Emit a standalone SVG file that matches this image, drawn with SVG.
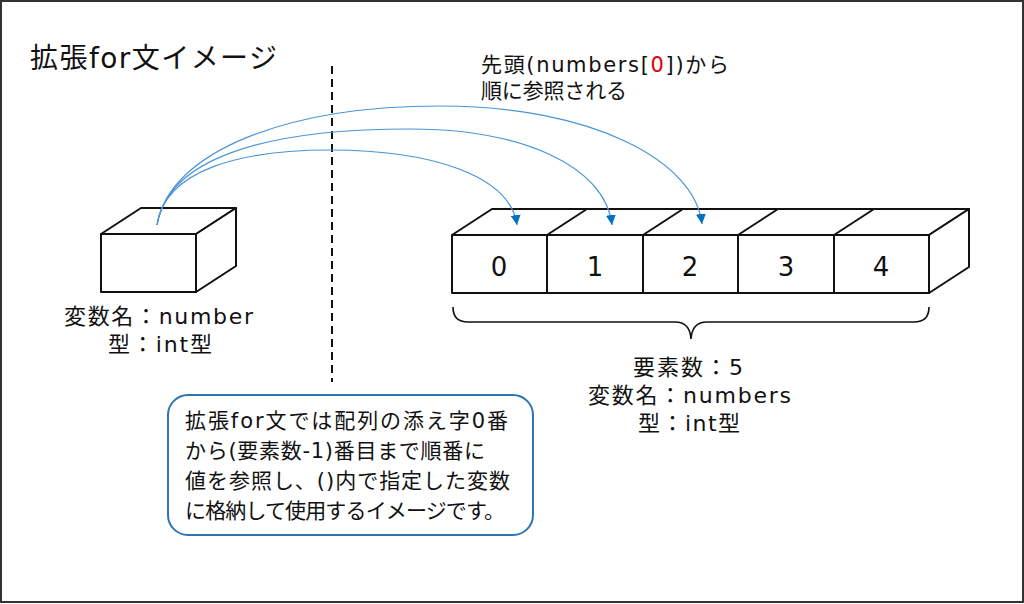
<svg xmlns="http://www.w3.org/2000/svg" width="1024" height="604" viewBox="0 0 1024 604">
<defs>
<style>
.t{font-family:"DejaVu Sans","Noto Sans CJK JP",sans-serif;fill:#111;}
.edge{fill:none;stroke:#111;stroke-width:2;stroke-linejoin:round;}
.face{fill:#fff;stroke:#111;stroke-width:2;stroke-linejoin:round;}
.arc{fill:none;stroke:#4A94D6;stroke-width:1.2;}
</style>
<marker id="ah" viewBox="0 0 10 10" refX="10" refY="5" markerWidth="10" markerHeight="10" markerUnits="userSpaceOnUse" orient="auto">
<path d="M0,0 L10,5 L0,10 z" fill="#0070C0"/>
</marker>
</defs>
<rect x="0" y="0" width="1024" height="604" fill="#fff"/>
<rect x="1" y="1" width="1022" height="601" fill="none" stroke="#333" stroke-width="2"/>

<g id="title">
<text class="t" x="30" y="68" font-size="28" textLength="247" lengthAdjust="spacing">拡張for文イメージ</text>
</g>

<g id="divider">
<line x1="332" y1="66" x2="332" y2="382" stroke="#111" stroke-width="2" stroke-dasharray="8,5"/>
</g>

<g id="note-top">
<text class="t" x="481" y="72" font-size="21" textLength="248" lengthAdjust="spacing">先頭(numbers[<tspan fill="#E00000">0</tspan>])から</text>
<text class="t" x="481" y="98" font-size="21" textLength="146" lengthAdjust="spacing">順に参照される</text>
</g>

<g id="variable">
<path class="face" d="M101,234 L141,208 L236,208 L196,234 Z"/>
<path class="face" d="M196,234 L236,208 L236,266 L196,292 Z"/>
<rect class="face" x="101" y="234" width="95" height="58"/>
<text class="t" x="64" y="324" font-size="22" textLength="189" lengthAdjust="spacing">変数名：number</text>
<text class="t" x="108" y="352" font-size="22" textLength="104" lengthAdjust="spacing">型：int型</text>
</g>

<g id="array">
<path class="face" d="M452,235 L492,209 L969,209 L929,235 Z"/>
<path class="edge" d="M547,235 L587,209 M643,235 L683,209 M738,235 L778,209 M834,235 L874,209"/>
<path class="face" d="M929,235 L969,209 L969,267 L929,293 Z"/>
<rect class="face" x="452" y="235" width="477" height="58"/>
<path class="edge" d="M547,235 V293 M643,235 V293 M738,235 V293 M834,235 V293"/>
<text class="t" x="499" y="276" font-size="26" text-anchor="middle">0</text>
<text class="t" x="595" y="276" font-size="26" text-anchor="middle">1</text>
<text class="t" x="690" y="276" font-size="26" text-anchor="middle">2</text>
<text class="t" x="786" y="276" font-size="26" text-anchor="middle">3</text>
<text class="t" x="881" y="276" font-size="26" text-anchor="middle">4</text>
<path d="M453,307 Q453,322 468,322 L675,322 Q690,322 691,339 Q692,322 707,322 L914,322 Q929,322 929,307" fill="none" stroke="#111" stroke-width="1.6"/>
<text class="t" x="633" y="375" font-size="22" textLength="110" lengthAdjust="spacing">要素数：5</text>
<text class="t" x="588" y="403" font-size="22" textLength="203" lengthAdjust="spacing">変数名：numbers</text>
<text class="t" x="638" y="431" font-size="22" textLength="102" lengthAdjust="spacing">型：int型</text>
</g>

<g id="connectors">
<path class="arc" marker-end="url(#ah)" d="M157,225 C165,170 240,150 330,150 C430,150 510,175 517,225"/>
<path class="arc" marker-end="url(#ah)" d="M157,225 C168,160 260,129 410,129 C520,129 605,165 612,225"/>
<path class="arc" marker-end="url(#ah)" d="M157,225 C170,150 290,106 440,106 C590,106 695,160 702,224"/>
</g>

<g id="explanation">
<rect x="168" y="395" width="365" height="140" rx="20" ry="20" fill="#fff" stroke="#2E75B6" stroke-width="2"/>
<text class="t" x="185" y="428" font-size="21" textLength="323" lengthAdjust="spacing">拡張for文では配列の添え字0番</text>
<text class="t" x="185" y="458" font-size="21" textLength="300" lengthAdjust="spacing">から(要素数-1)番目まで順番に</text>
<text class="t" x="185" y="488" font-size="21" textLength="325" lengthAdjust="spacing">値を参照し、()内で指定した変数</text>
<text class="t" x="185" y="518" font-size="21" textLength="320" lengthAdjust="spacing">に格納して使用するイメージです。</text>
</g>
</svg>
